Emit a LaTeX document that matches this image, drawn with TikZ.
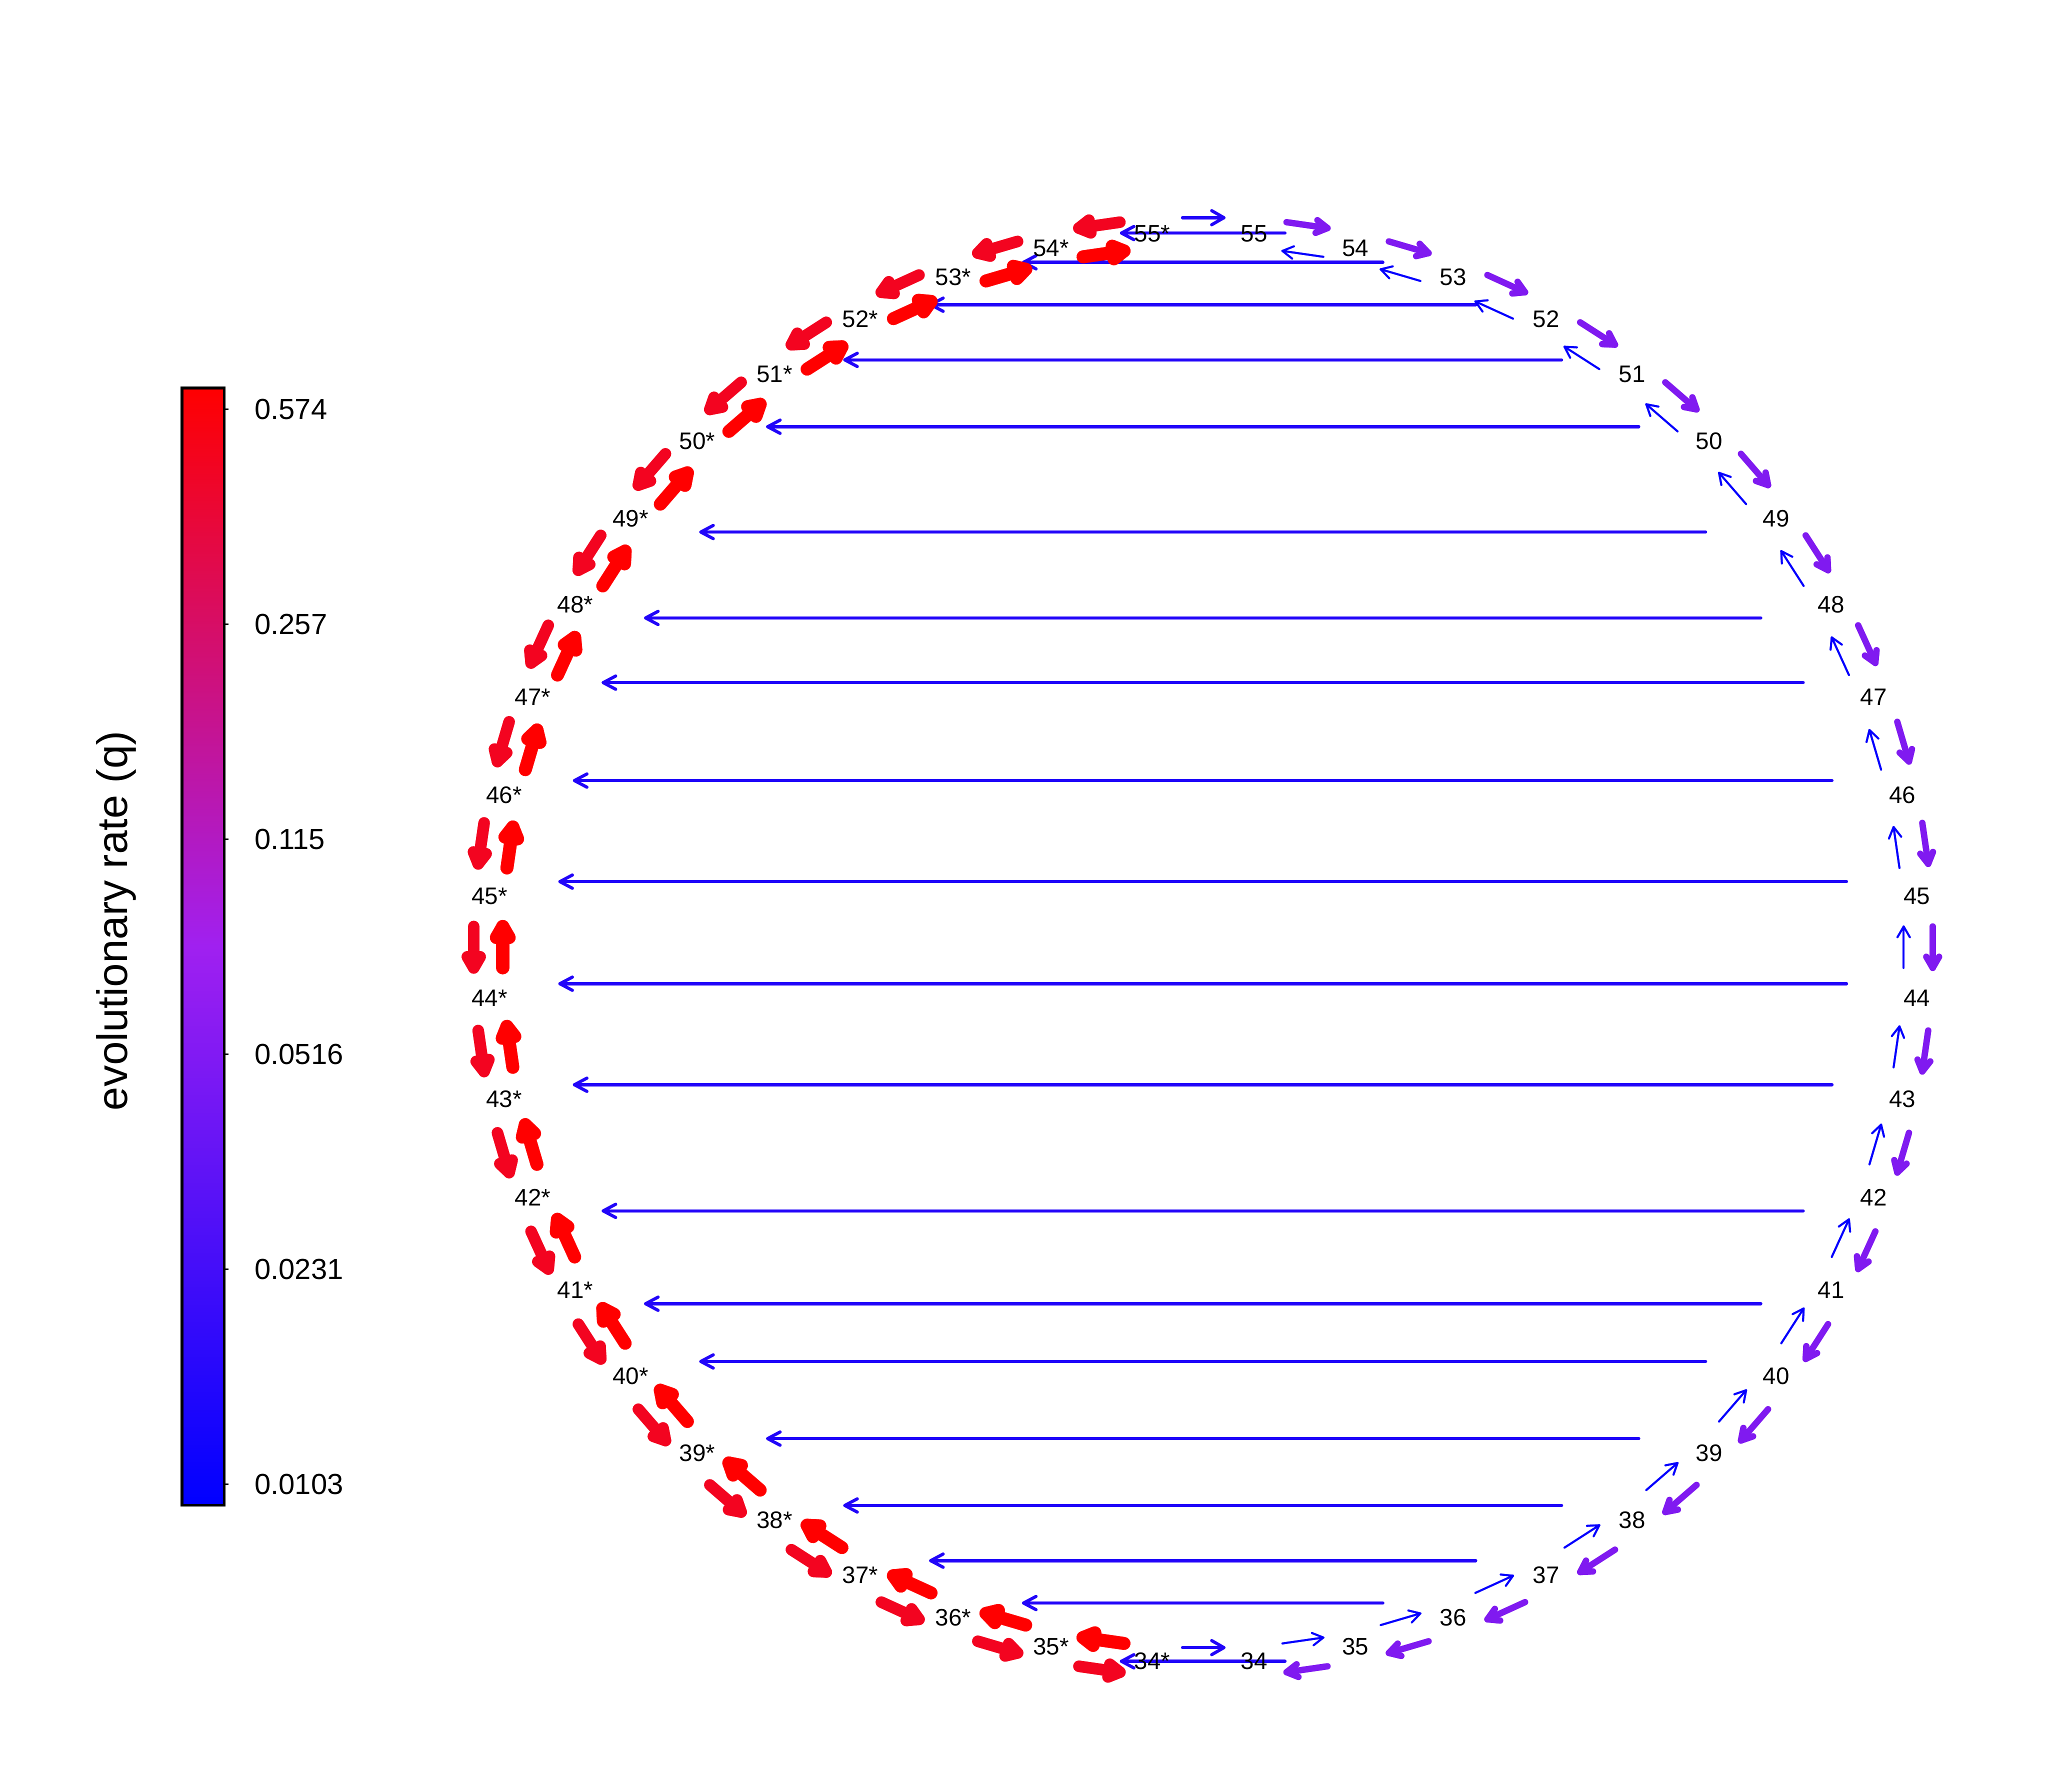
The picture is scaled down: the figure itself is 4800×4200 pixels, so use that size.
\documentclass[tikz,border=0pt]{standalone}
\usepackage{fontspec}
\setmainfont{Liberation Sans}
\usetikzlibrary{calc}
\definecolor{redI}{RGB}{255,0,0}
\definecolor{redO}{RGB}{243,4,32}
\definecolor{purp}{RGB}{128,26,240}
\definecolor{blueT}{RGB}{6,0,254}
\definecolor{blueH}{RGB}{34,5,249}
\definecolor{Rpurple}{RGB}{160,32,240}
\pgfdeclarelayer{back}
\pgfdeclarelayer{bg}
\pgfsetlayers{back,bg,main}
\newcommand{\qarrow}[6]{%
  \coordinate (qs) at ($(#2.center)!0.2973!(#3.center)!#4!#5:(#3.center)$);
  \coordinate (qe) at ($(#2.center)!0.7027!(#3.center)!#4!#5:(#3.center)$);
  \draw[#1] (qs) -- (qe);
  \draw[#1] ($(qe)!#6!30:(qs)$) -- (qe) -- ($(qe)!#6!-30:(qs)$);
}
\begin{document}
\begin{tikzpicture}[x=0.01cm,y=0.01cm,
  lab/.style={inner sep=0pt,text=black,font=\fontsize{15.9}{19}\selectfont},
  ticklab/.style={inner sep=0pt,anchor=west,font=\fontsize{19.35}{23}\selectfont},
  arrbase/.style={line cap=round,line join=round},
  purpA/.style={arrbase,draw=purp,line width=0.15cm},
  blueA/.style={arrbase,draw=blueT,line width=0.05cm},
  redOA/.style={arrbase,draw=redO,line width=0.273cm},
  redIA/.style={arrbase,draw=redI,line width=0.307cm},
  hline/.style={arrbase,draw=blueH,line width=0.075cm}]
\useasboundingbox (0,0) rectangle (4800,4200);
\begin{pgfonlayer}{back}
\fill[white] (0,0) rectangle (4800,4200);
\end{pgfonlayer}
% state nodes
\foreach \k in {0,...,21}{
  \pgfmathtruncatemacro\nn{55-\k}
  \pgfmathsetmacro\aa{85.909-8.1818*\k}
  \node[lab] (R\nn) at ({2820+1677*cos(\aa)},{1980+1677*sin(\aa)}) {\nn};
  \node[lab] (L\nn) at ({2820-1677*cos(\aa)},{1980+1677*sin(\aa)}) {\nn*};
}
\begin{pgfonlayer}{bg}
% horizontal transitions n -> n*
\foreach \nn/\off in {53/34,52/34,51/34,50/34,49/-32,48/-32,47/34,46/34,45/34,44/34,43/34,42/-32,41/-32,40/34,39/34,38/34,37/34,36/34}{
  \coordinate (hs) at ($(R\nn.center)+(-165,\off)$);
  \coordinate (he) at ($(L\nn.center)+(165,\off)$);
  \draw[hline] (hs) -- (he);
  \draw[hline] ($(he)!0.33cm!28:(hs)$) -- (he) -- ($(he)!0.33cm!-28:(hs)$);
}
\foreach \nn/\off in {55/1,34/-1}{
  \coordinate (hs) at ($(R\nn.center)+(72,\off)$);
  \coordinate (he) at ($(L\nn.center)+(-72,\off)$);
  \draw[hline] (hs) -- (he);
  \draw[hline] ($(he)!0.33cm!28:(hs)$) -- (he) -- ($(he)!0.33cm!-28:(hs)$);
}
% transitions between neighbours
\foreach \nn in {34,...,54}{
  \pgfmathtruncatemacro\mm{\nn+1}
  \qarrow{purpA}{R\mm}{R\nn}{0.37cm}{90}{0.30cm}
  \qarrow{blueA}{R\nn}{R\mm}{0.31cm}{90}{0.29cm}
  \qarrow{redOA}{L\mm}{L\nn}{0.37cm}{-90}{0.30cm}
  \qarrow{redIA}{L\nn}{L\mm}{0.31cm}{-90}{0.30cm}
}
\qarrow{hline}{L55}{R55}{0.37cm}{90}{0.33cm}
\qarrow{hline}{L34}{R34}{0.31cm}{90}{0.33cm}
\end{pgfonlayer}
% colour bar
\shade[top color=red,bottom color=blue,middle color=Rpurple] (426.25,672.25) rectangle (525.75,3290.75);
\draw[line width=0.065cm] (426.25,672.25) rectangle (525.75,3290.75);
\foreach \yy/\tv [count=\ii] in {3241/0.574,2737/0.257,2233/0.115,1729/0.0516,1225/0.0231,721/0.0103}{
  \draw[line width=0.035cm] (526,\yy) -- (536,\yy);
  \node[ticklab] (tick\ii) at (596,\yy) {\tv};
}
\node[rotate=90,inner sep=0pt,font=\fontsize{28.45}{34}\selectfont] (title) at (272,2042) {evolutionary rate (q)};
\end{tikzpicture}
\end{document}
